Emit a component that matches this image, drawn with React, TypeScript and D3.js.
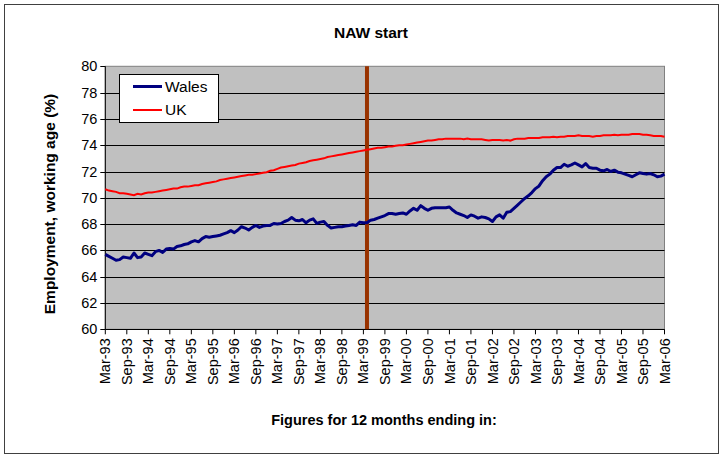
import React from "react";
import * as d3 from "d3";

const title = "NAW start";
const yTitle = "Employment, working age (%)";
const xTitle = "Figures for 12 months ending in:";
const startYear = 1993;
const startMonth = 2; // March (0-based)
const nawIndex = 73;
const yTicks = [60, 62, 64, 66, 68, 70, 72, 74, 76, 78, 80];

const wales = [
  65.7, 65.55, 65.4, 65.25, 65.3, 65.5, 65.45, 65.4, 65.8, 65.45, 65.5, 65.8,
  65.7, 65.6, 65.9, 66.0, 65.85, 66.1, 66.15, 66.1, 66.3, 66.35, 66.45, 66.5,
  66.65, 66.75, 66.65, 66.9, 67.05, 67.0, 67.05, 67.1, 67.15, 67.25, 67.35, 67.5,
  67.35, 67.55, 67.8, 67.7, 67.55, 67.75, 67.9, 67.75, 67.85, 67.9, 67.9, 68.05,
  68.0, 68.05, 68.2, 68.3, 68.5, 68.3, 68.25, 68.35, 68.1, 68.3, 68.4, 68.05,
  68.15, 68.2, 67.9, 67.7, 67.75, 67.8, 67.8, 67.85, 67.9, 67.95, 67.9, 68.15,
  68.1, 68.1, 68.3, 68.35, 68.45, 68.55, 68.65, 68.8, 68.8, 68.75, 68.8, 68.85,
  68.75, 69.0, 69.2, 69.05, 69.4, 69.2, 69.05, 69.2, 69.25, 69.25, 69.25, 69.25,
  69.3, 69.05, 68.85, 68.75, 68.65, 68.5, 68.7, 68.6, 68.45, 68.55, 68.5, 68.4,
  68.2, 68.55, 68.7, 68.45, 68.9, 68.95, 69.2, 69.45, 69.7, 69.95, 70.15, 70.4,
  70.7, 70.9, 71.3, 71.6, 71.8, 72.1, 72.3, 72.3, 72.55, 72.4, 72.5, 72.65,
  72.5, 72.35, 72.6, 72.3, 72.25, 72.25, 72.1, 72.05, 72.15, 72.0, 72.1, 71.95,
  71.9, 71.8, 71.7, 71.6, 71.75, 71.9, 71.85, 71.8, 71.85, 71.75, 71.6, 71.65,
  71.8,
];

const uk = [
  70.65, 70.55, 70.5, 70.45, 70.35, 70.35, 70.3, 70.25, 70.2, 70.3, 70.25, 70.35,
  70.4, 70.4, 70.45, 70.5, 70.55, 70.6, 70.65, 70.7, 70.7, 70.8, 70.85, 70.85,
  70.9, 70.95, 70.95, 71.05, 71.1, 71.15, 71.2, 71.25, 71.35, 71.4, 71.45, 71.5,
  71.55, 71.6, 71.65, 71.7, 71.75, 71.75, 71.8, 71.85, 71.9, 71.95, 72.05, 72.1,
  72.2, 72.3, 72.35, 72.4, 72.45, 72.5, 72.6, 72.65, 72.7, 72.8, 72.85, 72.9,
  72.95, 73.0, 73.1, 73.15, 73.2, 73.25, 73.3, 73.35, 73.4, 73.45, 73.5, 73.55,
  73.6, 73.65, 73.7, 73.75, 73.8, 73.8, 73.85, 73.9, 73.9, 73.95, 74.0, 74.0,
  74.05, 74.1, 74.15, 74.2, 74.25, 74.3, 74.35, 74.35, 74.4, 74.45, 74.45, 74.5,
  74.5, 74.5, 74.5, 74.5, 74.45, 74.5, 74.45, 74.45, 74.45, 74.45, 74.4, 74.35,
  74.4, 74.4, 74.4, 74.35, 74.4, 74.35, 74.45, 74.5, 74.5, 74.5, 74.55, 74.55,
  74.55, 74.55, 74.6, 74.6, 74.6, 74.65, 74.6, 74.65, 74.65, 74.7, 74.7, 74.7,
  74.75, 74.7, 74.7, 74.7, 74.65, 74.7, 74.7, 74.75, 74.75, 74.75, 74.8, 74.75,
  74.8, 74.8, 74.8, 74.85, 74.85, 74.85, 74.8, 74.8, 74.75, 74.7, 74.7, 74.7,
  74.65,
];

const monthNames = ["Jan", "Feb", "Mar", "Apr", "May", "Jun", "Jul", "Aug", "Sep", "Oct", "Nov", "Dec"];
const labelFor = (i: number) => {
  const m = (startMonth + i) % 12;
  const y = startYear + Math.floor((startMonth + i) / 12);
  return `${monthNames[m]}-${String(y % 100).padStart(2, "0")}`;
};

const W = 721;
const H = 456;
const plot = { left: 105.3, right: 664.5, top: 66.3, bottom: 329.3 };
const FONT = "'Liberation Sans', Arial, sans-serif";

export default function App() {
  const n = wales.length;
  const x = d3.scaleLinear().domain([0, n - 1]).range([plot.left, plot.right]);
  const y = d3.scaleLinear().domain([60, 80]).range([plot.bottom, plot.top]);
  const line = d3
    .line<number>()
    .x((_, i) => x(i))
    .y((d) => y(d));
  const xTickIdx = d3.range(0, n, 6);

  return (
    <svg
      width={W}
      height={H}
      style={{ position: "absolute", left: 0, top: 0, background: "#fff" }}
      fontFamily={FONT}
    >
      <rect x={4.5} y={4.5} width={W - 7} height={H - 7} fill="#fff" stroke="#404040" strokeWidth={1} />
      <text x={371} y={38} textAnchor="middle" fontWeight="bold" fontSize={15.5}>
        {title}
      </text>
      <rect
        x={plot.left}
        y={plot.top}
        width={plot.right - plot.left}
        height={plot.bottom - plot.top}
        fill="#c0c0c0"
        stroke="#808080"
        strokeWidth={1}
      />
      {yTicks.map((t) => (
        <g key={t}>
          {t > 60 && t < 80 && (
            <line x1={plot.left} x2={plot.right} y1={Math.round(y(t)) + 0.5} y2={Math.round(y(t)) + 0.5} stroke="#000" strokeWidth={1} />
          )}
          <line x1={plot.left - 5} x2={plot.left} y1={Math.round(y(t)) + 0.5} y2={Math.round(y(t)) + 0.5} stroke="#000" />
          <text x={plot.left - 8} y={y(t)} dy="0.35em" textAnchor="end" fontSize={14.5}>
            {t}
          </text>
        </g>
      ))}
      <line x1={plot.left} x2={plot.left} y1={plot.top} y2={plot.bottom} stroke="#000" />
      <line x1={plot.left} x2={plot.right} y1={Math.round(plot.bottom) + 0.5} y2={Math.round(plot.bottom) + 0.5} stroke="#000" />
      {xTickIdx.map((i) => (
        <g key={i}>
          <line x1={x(i)} x2={x(i)} y1={plot.bottom} y2={plot.bottom + 5} stroke="#000" />
          <text
            transform={`translate(${x(i)},${plot.bottom + 9}) rotate(-90)`}
            textAnchor="end"
            dy="0.35em"
            fontSize={14.5}
          >
            {labelFor(i)}
          </text>
        </g>
      ))}
      <line x1={x(nawIndex)} x2={x(nawIndex)} y1={plot.top} y2={plot.bottom} stroke="#993300" strokeWidth={4} />
      <path d={line(uk) || ""} fill="none" stroke="#ff0000" strokeWidth={2} />
      <path d={line(wales) || ""} fill="none" stroke="#000080" strokeWidth={3} strokeLinejoin="round" />
      <g>
        <rect x={119.5} y={74.5} width={99} height={48} fill="#fff" stroke="#000" />
        <line x1={133} x2={162} y1={86.5} y2={86.5} stroke="#000080" strokeWidth={3} />
        <text x={165} y={86.5} dy="0.35em" fontSize={15.5}>Wales</text>
        <line x1={133} x2={162} y1={110} y2={110} stroke="#ff0000" strokeWidth={2} />
        <text x={165} y={110} dy="0.35em" fontSize={15.5}>UK</text>
      </g>
      <text
        transform={`translate(50,204) rotate(-90)`}
        textAnchor="middle"
        dy="0.35em"
        fontWeight="bold"
        fontSize={15.5}
      >
        {yTitle}
      </text>
      <text x={384} y={420} dy="0.35em" textAnchor="middle" fontWeight="bold" fontSize={14.5}>
        {xTitle}
      </text>
    </svg>
  );
}
